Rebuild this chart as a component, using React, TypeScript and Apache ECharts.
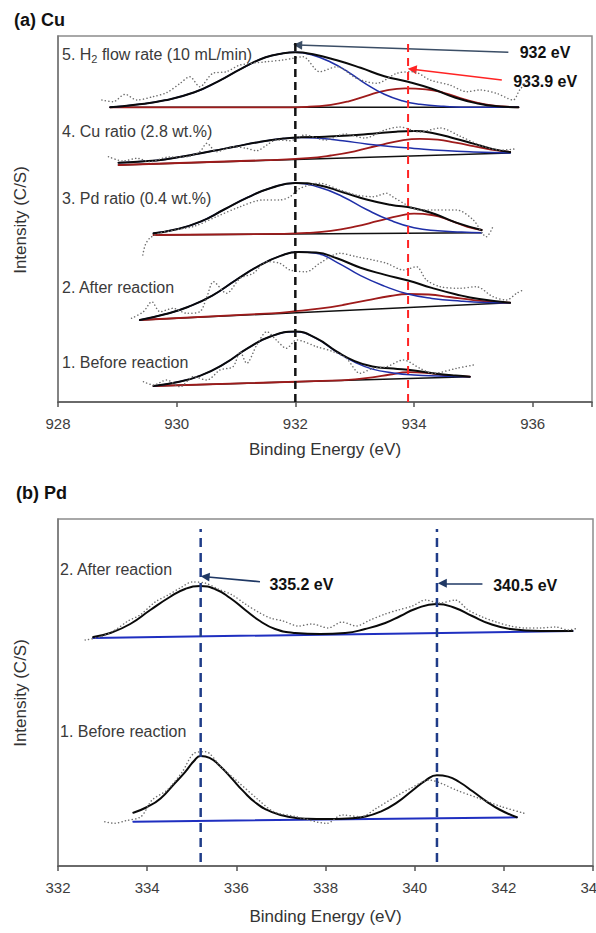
import React, { useEffect, useRef } from "react";
import * as echarts from "echarts";

type Pt = [number, number];

// ---------- axes ----------
const cuRange: [number, number] = [928, 937];
const cuTickLabels = [928, 930, 932, 934, 936];
const pdRange: [number, number] = [332, 344];
const cuIntensityMax = 366;
const pdIntensityMax = 347;

const cuSampleLabels = [
  "5. H{sub|2} flow rate (10 mL/min)",
  "4. Cu ratio (2.8 wt.%)",
  "3. Pd ratio (0.4 wt.%)",
  "2. After reaction",
  "1. Before reaction",
];
const pdSampleLabels = ["2. After reaction", "1. Before reaction"];
const cuPeakLines = [932, 933.9];
const pdPeakLines = [335.2, 340.5];

// ---------- (a) Cu spectra ----------
const cu5Base: Pt[] = [[928.88, 294.7], [935.76, 294.7]];
const cu5Red: Pt[] = [[928.88, 294.7], [931.8, 294.7], [932.2, 295.2], [932.6, 297.2], [932.9, 300.7], [933.2, 306.2], [933.5, 311.2], [933.85, 313.7], [934.2, 312.7], [934.5, 309.2], [934.85, 302.7], [935.2, 297.7], [935.5, 295.5], [935.76, 294.7]];
const cu5Blue: Pt[] = [[928.88, 294.7], [929.3, 297.2], [929.8, 301.7], [930.3, 309.7], [930.7, 320.7], [931.1, 333.7], [931.5, 344.7], [931.8, 348.7], [932.0, 349.7], [932.3, 346.7], [932.6, 339.7], [932.9, 329.7], [933.2, 317.7], [933.5, 307.7], [933.8, 301.2], [934.1, 297.7], [934.5, 295.7], [935.0, 294.7], [935.76, 294.7]];
const cu5Env: Pt[] = [[928.88, 294.7], [929.3, 297.2], [929.8, 301.7], [930.3, 309.7], [930.7, 320.7], [931.1, 333.7], [931.5, 344.7], [931.8, 348.7], [932.0, 349.7], [932.3, 347.7], [932.7, 341.7], [933.1, 334.2], [933.5, 325.7], [933.9, 320.2], [934.3, 313.2], [934.7, 304.2], [935.1, 298.2], [935.4, 295.7], [935.76, 294.7]];
const cu5Raw: Pt[] = [[928.74, 302], [928.93, 300.3], [929.13, 307.7], [929.33, 302], [929.6, 305.3], [929.83, 309.3], [930.06, 318.7], [930.22, 325.3], [930.39, 315.3], [930.61, 328.7], [930.84, 330.3], [931.07, 337], [931.52, 340.3], [931.79, 342], [931.96, 343.7], [932.13, 345.3], [932.41, 330.3], [932.7, 335.3], [933.03, 323.7], [933.37, 318.7], [933.71, 328.7], [933.99, 330.3], [934.27, 322], [934.6, 317], [934.89, 310.3], [935.11, 312], [935.39, 308.7], [935.67, 302], [935.78, 312], [935.9, 320.3]];

const cu4Base: Pt[] = [[929.02, 237], [935.62, 249]];
const cu4Red: Pt[] = [[929.02, 237], [931.5, 241.8], [932.2, 243.8], [932.6, 246.5], [933.0, 250.7], [933.4, 256.5], [933.8, 261.7], [934.1, 263.2], [934.4, 262.3], [934.7, 259.3], [935.0, 255.9], [935.3, 252.4], [935.62, 250]];
const cu4Blue: Pt[] = [[929.02, 239.3], [929.4, 240.5], [929.8, 242.6], [930.2, 246.6], [930.6, 250.9], [931.0, 255.6], [931.4, 260.1], [931.8, 263.4], [932.1, 264.6], [932.4, 263.7], [932.8, 261.2], [933.2, 258.1], [933.6, 255.5], [934.0, 253.6], [934.5, 251.5], [935.0, 250.1], [935.62, 249]];
const cu4Env: Pt[] = [[929.02, 239.3], [929.4, 240.5], [929.8, 242.6], [930.2, 246.6], [930.6, 250.9], [931.0, 255.6], [931.4, 260.1], [931.8, 263.4], [932.1, 264.8], [932.5, 265.3], [932.9, 266.4], [933.3, 268.3], [933.7, 270.3], [934.0, 270.9], [934.35, 268.5], [934.7, 263.3], [935.0, 258.4], [935.3, 253.4], [935.62, 250]];
const cu4Raw: Pt[] = [[928.85, 245.3], [929.1, 241], [929.33, 243.7], [929.55, 240.3], [929.83, 244.7], [930.17, 245.3], [930.39, 250.3], [930.51, 258.7], [930.67, 250.3], [930.95, 255.3], [931.18, 253.7], [931.35, 251.3], [931.52, 257], [931.68, 262], [931.91, 261.3], [932.16, 267], [932.5, 262], [932.84, 268], [933.17, 264], [933.51, 272], [933.76, 275], [934.1, 270], [934.44, 274], [934.77, 266], [935.11, 257], [935.45, 252], [935.7, 253]];

const cu3Base: Pt[] = [[929.61, 167], [935.14, 169.3]];
const cu3Red: Pt[] = [[929.61, 167], [931.8, 168.2], [932.2, 169.1], [932.6, 171.2], [933.0, 175.4], [933.4, 181.1], [933.75, 186.2], [934.0, 188.3], [934.3, 187], [934.65, 180.6], [934.9, 175.2], [935.14, 172]];
const cu3Blue: Pt[] = [[929.61, 168.7], [930.0, 172.7], [930.4, 180.3], [930.8, 192.5], [931.2, 204.7], [931.6, 214.3], [932.0, 219], [932.4, 214.7], [932.8, 205.3], [933.2, 192.5], [933.6, 181.7], [934.0, 174.3], [934.4, 171.2], [934.8, 170], [935.14, 169.3]];
const cu3Env: Pt[] = [[929.61, 168.7], [930.0, 172.7], [930.4, 180.3], [930.8, 192.5], [931.2, 204.7], [931.6, 214.3], [932.0, 219], [932.4, 216.7], [932.8, 209.8], [933.2, 202.5], [933.6, 197.2], [934.0, 193.8], [934.35, 188], [934.7, 179.6], [935.14, 172]];
const cu3Raw: Pt[] = [[929.43, 147], [929.47, 157], [929.55, 164], [929.72, 169], [929.97, 172], [930.31, 176], [930.67, 185.3], [931.07, 195.3], [931.45, 202], [931.74, 202], [931.91, 205.3], [932.08, 213.7], [932.41, 218.7], [932.75, 212], [933.03, 207], [933.31, 205.3], [933.54, 208.7], [933.64, 205.3], [933.88, 197], [934.1, 192], [934.32, 192], [934.72, 192], [935.0, 182], [935.22, 165.3], [935.33, 175.3]];

const cu2Base: Pt[] = [[929.38, 82], [935.62, 99.3]];
const cu2Red: Pt[] = [[929.38, 82], [931.6, 88.7], [932.0, 90.8], [932.4, 93.4], [932.8, 97], [933.2, 101.6], [933.6, 106], [933.9, 108], [934.25, 107.5], [934.6, 105], [935.0, 101.9], [935.3, 100.2], [935.62, 99.3]];
const cu2Blue: Pt[] = [[929.38, 82], [929.8, 87.7], [930.2, 95.3], [930.6, 106.4], [931.0, 122], [931.4, 136.6], [931.75, 146.1], [932.05, 150], [932.35, 148.7], [932.7, 139.7], [933.1, 126.3], [933.5, 115.9], [933.9, 108], [934.3, 103.6], [934.8, 100.8], [935.2, 99.6], [935.62, 99.3]];
const cu2Env: Pt[] = [[929.38, 82], [929.8, 87.7], [930.2, 95.3], [930.6, 106.4], [931.0, 122], [931.4, 136.6], [931.75, 146.1], [932.05, 150.1], [932.35, 149.5], [932.7, 143.7], [933.1, 134.3], [933.5, 127.4], [933.9, 121.5], [934.3, 114.1], [934.7, 107.8], [935.1, 102.9], [935.62, 99.3]];
const cu2Raw: Pt[] = [[929.24, 83.7], [929.44, 90.3], [929.58, 100.3], [929.72, 90.3], [929.94, 93.7], [930.17, 88.7], [930.39, 90.3], [930.51, 105.3], [930.62, 120.3], [930.84, 108.7], [931.07, 123.7], [931.29, 128.7], [931.52, 140.3], [931.74, 138.7], [931.91, 132], [932.19, 130.3], [932.41, 138.7], [932.75, 148.7], [933.03, 145.3], [933.31, 142], [933.54, 138.7], [933.82, 132], [934.04, 135.3], [934.21, 122], [934.44, 115.3], [934.77, 113.7], [935.05, 115.3], [935.33, 105.3], [935.56, 102], [935.73, 108.7], [935.84, 112]];

const cu1Base: Pt[] = [[929.61, 16], [934.94, 25.3]];
const cu1Red: Pt[] = [[929.61, 16], [932.6, 21.3], [933.0, 22.7], [933.3, 24.6], [933.6, 27.5], [933.9, 29.8], [934.2, 29.2], [934.5, 26.9], [934.75, 25.8], [934.94, 25.3]];
const cu1Blue: Pt[] = [[929.61, 16], [930.0, 19.7], [930.4, 26.4], [930.8, 38.1], [931.2, 53.8], [931.6, 66], [932.0, 70.2], [932.35, 63.6], [932.7, 49.9], [933.0, 39.9], [933.3, 32.9], [933.65, 29.1], [934.0, 27], [934.4, 26], [934.94, 25.3]];
const cu1Env: Pt[] = [[929.61, 16], [930.0, 19.7], [930.4, 26.4], [930.8, 38.1], [931.2, 53.8], [931.6, 66], [932.0, 70.5], [932.35, 63.8], [932.7, 50.4], [933.0, 40.9], [933.3, 35.4], [933.65, 33.4], [934.0, 31.5], [934.35, 28.6], [934.7, 26.4], [934.94, 25.3]];
const cu1Raw: Pt[] = [[929.44, 20.3], [929.61, 17], [929.83, 22], [930.06, 15.3], [930.28, 25.3], [930.51, 22], [930.73, 32], [930.95, 35.3], [931.07, 50.3], [931.18, 38.7], [931.35, 57], [931.52, 70.3], [931.68, 62], [931.85, 53.7], [932.02, 62], [932.36, 55.3], [932.64, 50.3], [932.86, 43.7], [933.09, 28.7], [933.31, 33.7], [933.54, 35.3], [933.82, 42], [934.1, 33.7], [934.32, 28.7], [934.72, 33.7], [935.0, 37]];

// ---------- (b) Pd spectra ----------
const pd2Base: Pt[] = [[332.79, 228], [343.54, 235]];
const pd2Env: Pt[] = [[332.79, 229], [333.17, 233], [333.62, 242], [334.07, 256], [334.51, 269], [334.85, 277], [335.19, 280], [335.52, 277], [335.86, 268], [336.2, 256], [336.53, 245], [336.87, 237], [337.32, 233], [337.88, 232], [338.44, 233], [338.89, 237], [339.34, 243], [339.68, 250], [340.01, 257], [340.49, 262], [340.91, 258], [341.29, 250], [341.7, 242], [342.15, 237], [342.82, 235], [343.54, 235]];
const pd2Raw: Pt[] = [[332.61, 226], [332.94, 229], [333.28, 236], [333.57, 245], [333.84, 251], [334.18, 264], [334.47, 271], [334.74, 278], [335.01, 284], [335.3, 283], [335.59, 277], [335.91, 271], [336.2, 262], [336.49, 254], [336.76, 248], [337.05, 245], [337.39, 240], [337.7, 242], [338.06, 238], [338.37, 244], [338.69, 240], [339.0, 246], [339.34, 252], [339.63, 256], [339.95, 260], [340.24, 266], [340.57, 263], [340.91, 266], [341.2, 256], [341.52, 249], [341.83, 244], [342.15, 240], [342.48, 238], [342.82, 238], [343.16, 239], [343.45, 236], [343.67, 238]];

const pd1Base: Pt[] = [[333.69, 44.3], [342.29, 48.7]];
const pd1Env: Pt[] = [[333.69, 53.3], [334.0, 59], [334.3, 67.6], [334.6, 81.8], [334.85, 93.9], [335.05, 105], [335.2, 110.1], [335.4, 108.2], [335.65, 99.3], [335.9, 87.4], [336.15, 75.1], [336.45, 62.7], [336.8, 53.9], [337.2, 49.1], [337.6, 47.3], [338.0, 47], [338.5, 47.6], [338.9, 49.5], [339.25, 54.6], [339.6, 63.3], [339.95, 75.5], [340.25, 85.7], [340.5, 90.8], [340.75, 89.4], [341.0, 84], [341.3, 74.7], [341.6, 64.9], [341.9, 56.5], [342.29, 48.7]];
const pd1Raw: Pt[] = [[333.05, 44.3], [333.26, 42.7], [333.52, 45.3], [333.86, 49.3], [334.11, 66], [334.45, 76], [334.79, 94.3], [335.05, 112.7], [335.31, 114.3], [335.65, 99.3], [335.99, 86], [336.5, 66], [336.84, 54.3], [337.35, 49.3], [338.03, 42.7], [338.37, 51], [338.8, 49.3], [339.14, 57.7], [339.57, 69.3], [339.91, 77.7], [340.33, 86], [340.59, 82.7], [340.93, 76], [341.44, 67.7], [341.95, 59.3], [342.46, 52.7]];

const FONT = '"Liberation Sans", Arial, Helvetica, sans-serif';

function buildOption() {
  const series: any[] = [];
  const addLine = (data: Pt[], g: number, color: string, width: number, z: number) =>
    series.push({
      type: "line", data, xAxisIndex: g, yAxisIndex: g, symbol: "none",
      smooth: 0.5, silent: true, z,
      lineStyle: { color, width, cap: "round", join: "round" },
    });
  const addRaw = (data: Pt[], g: number) =>
    series.push({
      type: "line", data, xAxisIndex: g, yAxisIndex: g, symbol: "none",
      smooth: 0.3, silent: true, z: 6,
      lineStyle: { color: "#6e6e6e", width: 1.5, type: [0.1, 3.4], cap: "round" },
    });

  const cuSpectra = [
    [cu5Base, cu5Red, cu5Blue, cu5Env, cu5Raw],
    [cu4Base, cu4Red, cu4Blue, cu4Env, cu4Raw],
    [cu3Base, cu3Red, cu3Blue, cu3Env, cu3Raw],
    [cu2Base, cu2Red, cu2Blue, cu2Env, cu2Raw],
    [cu1Base, cu1Red, cu1Blue, cu1Env, cu1Raw],
  ];
  cuSpectra.forEach(([b, r, bl, e, raw]) => {
    addLine(b, 0, "#111111", 1.5, 2);
    addLine(r, 0, "#9e1b1b", 1.8, 3);
    addLine(bl, 0, "#1f2fa8", 1.5, 4);
    addLine(e, 0, "#0a0a0a", 2, 5);
    addRaw(raw, 0);
  });
  [[pd2Base, pd2Env, pd2Raw], [pd1Base, pd1Env, pd1Raw]].forEach(([b, e, raw]) => {
    addLine(b, 1, "#1f2fc0", 2, 2);
    addLine(e, 1, "#0a0a0a", 2, 5);
    addRaw(raw, 1);
  });

  const labelPoint = (coord: Pt, text: string) => ({ coord, label: { formatter: text } });
  const markPointBase = {
    symbol: "circle", symbolSize: 0.1, silent: true,
    itemStyle: { color: "rgba(0,0,0,0)" },
    label: {
      show: true, position: "right", distance: 0, fontFamily: FONT,
      fontWeight: "bold", fontSize: 16, color: "#111",
    },
  };
  const arrow = (from: Pt, to: Pt, color: string) => ({
    silent: true, symbol: ["none", "triangle"], symbolSize: 9,
    label: { show: false },
    lineStyle: { color, width: 1.6, type: "solid" },
    data: [[{ coord: from }, { coord: to }]],
  });

  series.push({
    type: "line", xAxisIndex: 0, yAxisIndex: 0, symbol: "none", silent: true, z: 8,
    data: [[cuPeakLines[0], 0], [cuPeakLines[0], 362]],
    lineStyle: { color: "#111", width: 2.5, type: [8, 5] },
    markLine: arrow([935.59, 349.7], [932.04, 357], "#3b4e66"),
    markPoint: { ...markPointBase, data: [labelPoint([935.78, 349.7], "932 eV")] },
  });
  series.push({
    type: "line", xAxisIndex: 0, yAxisIndex: 0, symbol: "none", silent: true, z: 8,
    data: [[cuPeakLines[1], 0], [cuPeakLines[1], 362]],
    lineStyle: { color: "#ff2424", width: 2, type: [8, 6] },
    markLine: arrow([935.48, 322], [933.97, 332.7], "#ff2424"),
    markPoint: { ...markPointBase, data: [labelPoint([935.67, 320.3], "933.9 eV")] },
  });
  series.push({
    type: "line", xAxisIndex: 1, yAxisIndex: 1, symbol: "none", silent: true, z: 8,
    data: [[pdPeakLines[0], 4], [pdPeakLines[0], 337]],
    lineStyle: { color: "#1f3c88", width: 2.5, type: [9, 6] },
    markLine: arrow([336.53, 284.3], [335.3, 289.3], "#1f3864"),
    markPoint: { ...markPointBase, data: [labelPoint([336.74, 282], "335.2 eV")] },
  });
  series.push({
    type: "line", xAxisIndex: 1, yAxisIndex: 1, symbol: "none", silent: true, z: 8,
    data: [[pdPeakLines[1], 4], [pdPeakLines[1], 337]],
    lineStyle: { color: "#1f3c88", width: 2.5, type: [9, 6] },
    markLine: arrow([341.52, 282.7], [340.62, 282.7], "#1f3864"),
    markPoint: { ...markPointBase, data: [labelPoint([341.76, 281], "340.5 eV")] },
  });

  const xAxisCommon = {
    type: "value",
    axisLine: { show: true, onZero: false, lineStyle: { color: "#555", width: 1.5 } },
    axisTick: { show: true, length: 5, lineStyle: { color: "#555", width: 1.5 } },
    splitLine: { show: false },
  };
  const yAxisCommon = {
    type: "value",
    axisLine: { show: true, onZero: false, lineStyle: { color: "#777", width: 1.5 } },
    axisTick: { show: false }, axisLabel: { show: false }, splitLine: { show: false },
  };
  const labelStyle = { fontSize: 15, color: "#3d3d3d", fontFamily: FONT, margin: 14 };

  const text = (x: number, y: number, t: string, extra: any = {}, rot = 0) => ({
    type: "text", x, y, rotation: rot, silent: true,
    style: {
      text: t, fontFamily: FONT, fontSize: 16, fill: "#333",
      align: "left", verticalAlign: "middle", ...extra,
    },
  });
  const cuLabelY = [54, 131, 198, 287, 362];
  const pdLabelY = [569, 731];

  const graphic: any[] = [
    text(14, 20, "(a) Cu", { fontWeight: "bold", fontSize: 18, fill: "#111" }),
    text(16, 493, "(b) Pd", { fontWeight: "bold", fontSize: 18, fill: "#111" }),
    text(20, 220, "Intensity (C/S)", { fontSize: 17, align: "center" }, Math.PI / 2),
    text(20, 693, "Intensity (C/S)", { fontSize: 17, align: "center" }, Math.PI / 2),
    text(325, 449, "Binding Energy (eV)", { fontSize: 17, align: "center" }),
    text(325.5, 916, "Binding Energy (eV)", { fontSize: 17, align: "center" }),
  ];
  cuSampleLabels.forEach((t, i) =>
    graphic.push(text(62, cuLabelY[i], t, {
      fill: "#3a3a3a", lineHeight: 20,
      rich: { sub: { fontSize: 11, lineHeight: 11, verticalAlign: "bottom", fontFamily: FONT, fill: "#3a3a3a", color: "#3a3a3a" } },
    }))
  );
  pdSampleLabels.forEach((t, i) => graphic.push(text(60, pdLabelY[i], t, { fill: "#3a3a3a" })));

  const gridCommon = {
    show: true, borderColor: "#8c8c8c", borderWidth: 1.5, backgroundColor: "transparent",
    containLabel: false, outerBoundsMode: "none",
  };

  return {
    animation: false,
    backgroundColor: "#ffffff",
    grid: [
      { ...gridCommon, left: 58, top: 36, width: 534, height: 366 },
      { ...gridCommon, left: 58, top: 519, width: 535, height: 347 },
    ],
    xAxis: [
      {
        ...xAxisCommon, gridIndex: 0, min: cuRange[0], max: cuRange[1], interval: 2,
        axisLabel: { ...labelStyle, formatter: (v: number) => (cuTickLabels.includes(v) ? String(v) : "") },
      },
      { ...xAxisCommon, gridIndex: 1, min: pdRange[0], max: pdRange[1], interval: 2, axisLabel: { ...labelStyle } },
    ],
    yAxis: [
      { ...yAxisCommon, gridIndex: 0, min: 0, max: cuIntensityMax },
      { ...yAxisCommon, gridIndex: 1, min: 0, max: pdIntensityMax },
    ],
    graphic,
    series,
  };
}

export default function App() {
  const ref = useRef<HTMLDivElement>(null);
  useEffect(() => {
    if (!ref.current) return;
    const chart = echarts.init(ref.current, undefined, { renderer: "svg" });
    chart.setOption(buildOption() as any);
    return () => chart.dispose();
  }, []);
  return (
    <div
      ref={ref}
      style={{ position: "fixed", left: 0, top: 0, width: 596, height: 933, background: "#fff" }}
    />
  );
}
